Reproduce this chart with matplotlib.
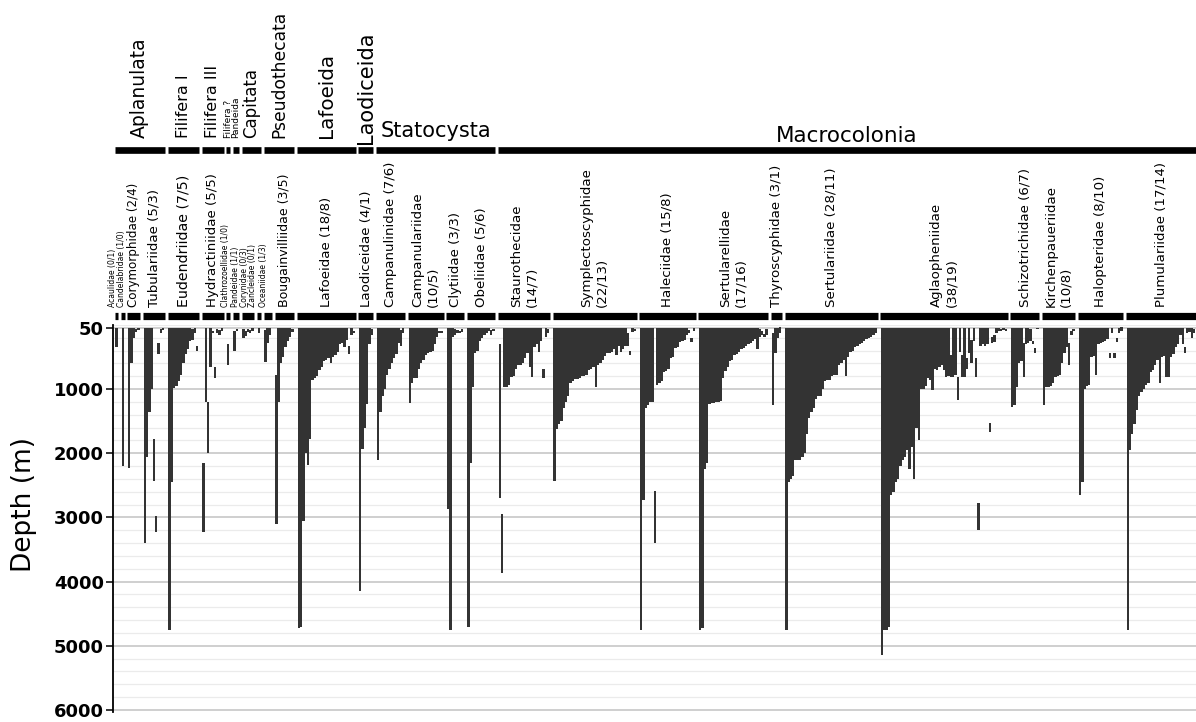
import matplotlib
matplotlib.use("Agg")
import matplotlib.pyplot as plt
import numpy as np

# hydroid families, species counts (a/b) and per-species depth ranges (m)
families = ["Acaulidae", "Candelabridae", "Corymorphidae", "Tubulariidae",
            "Eudendriidae", "Hydractiniidae", "Clathrozoellidae", "Pandeidae",
            "Corynidae", "Zancleidae", "Oceaniidae", "Bougainvilliidae",
            "Lafoeidae", "Laodiceidae", "Campanulinidae", "Campanulariidae",
            "Clytiidae", "Obeliidae", "Staurothecidae", "Symplectoscyphidae",
            "Haleciidae", "Sertularellidae", "Thyroscyphidae", "Sertulariidae",
            "Aglaopheniidae", "Schizotrichidae", "Kirchenpaueriidae",
            "Halopteridae", "Plumulariidae"]
count_a = [0, 1, 2, 5, 7, 5, 1, 1, 0, 0, 1, 3, 18, 4, 7, 10, 3, 5, 14, 22,
           15, 17, 3, 28, 38, 6, 10, 8, 17]
count_b = [1, 0, 4, 3, 5, 5, 0, 1, 3, 1, 3, 5, 8, 1, 6, 5, 3, 6, 7, 13,
           8, 16, 1, 11, 19, 7, 8, 10, 14]

groups = ["Aplanulata", "Filifera I", "Filifera III", "Filifera ?", "Pandeida",
          "Capitata", "Pseudothecata", "Lafoeida", "Laodiceida", "Statocysta",
          "Macrocolonia"]
group_sizes = [4, 1, 1, 1, 1, 2, 2, 1, 1, 4, 11]

acaulidae = [(50, 340)]
candelabridae = [(50, 2200)]
corymorphidae = [(50, 2230), (50, 600), (50, 200), (60, 110), (50, 80)]
tubulariidae = [(50, 3400), (50, 2050), (50, 1350), (50, 1000), (1780, 2430),
                (2980, 3230), (280, 450), (60, 120), (50, 80)]
eudendriidae = [(50, 4750), (50, 2450), (50, 980), (50, 950), (50, 880),
                (50, 780), (50, 600), (50, 450), (50, 380), (50, 250),
                (60, 230), (50, 120), (330, 400)]
hydractiniidae = [(2150, 3230), (50, 1200), (1200, 2000), (50, 650), (90, 130),
                  (650, 820), (60, 120), (80, 150), (50, 90)]
clathrozoellidae = [(300, 630)]
pandeidae = [(100, 400), (60, 100)]
corynidae = [(70, 200), (90, 170), (60, 110), (80, 120), (50, 90)]
zancleidae = [(50, 120)]
oceaniidae = [(80, 580), (50, 280), (50, 150)]
bougainvilliidae = [(780, 3100), (50, 1200), (50, 600), (50, 500), (50, 350),
                    (50, 250), (50, 180), (60, 110)]
lafoeidae = [(50, 4720), (50, 4700), (50, 3050), (50, 2000), (50, 2180),
             (50, 1780), (50, 850), (50, 830), (50, 800), (50, 700), (50, 650),
             (50, 560), (50, 540), (50, 520), (50, 600), (50, 500), (50, 460),
             (50, 420), (50, 300), (50, 280), (50, 350), (50, 230), (320, 450),
             (50, 150), (90, 120)]
laodiceidae = [(50, 4150), (50, 1930), (50, 1600), (50, 1230), (50, 300),
               (60, 150)]
campanulinidae = [(50, 2100), (50, 1350), (50, 1100), (50, 1000), (50, 780),
                  (50, 680), (50, 600), (50, 520), (50, 450), (50, 280),
                  (80, 330), (50, 120)]
campanulariidae = [(50, 1220), (50, 900), (50, 830), (50, 820), (50, 680),
                   (50, 600), (50, 550), (50, 470), (50, 440), (50, 420),
                   (50, 400), (50, 300), (50, 180), (90, 130), (90, 130)]
clytiidae = [(50, 2870), (50, 4750), (50, 180), (60, 150), (80, 130),
             (90, 120), (70, 110)]
obeliidae = [(50, 4700), (50, 2150), (50, 970), (50, 440), (50, 400),
             (50, 250), (50, 200), (50, 150), (50, 120), (50, 100), (80, 150),
             (60, 90)]
staurothecidae = [(300, 2700), (2950, 3870), (50, 970), (50, 970), (50, 930),
                  (50, 810), (50, 800), (50, 680), (50, 630), (50, 630),
                  (50, 600), (50, 520), (50, 440), (50, 650), (50, 810),
                  (50, 340), (50, 300), (50, 420), (50, 250), (680, 830),
                  (50, 180), (60, 120)]
symplectoscyphidae = [(50, 2430), (50, 1620), (50, 1550), (50, 1500),
                      (50, 1300), (50, 1200), (50, 1100), (50, 900), (50, 870),
                      (50, 840), (50, 840), (50, 820), (50, 800), (50, 800),
                      (50, 780), (50, 700), (50, 680), (50, 650), (50, 970),
                      (50, 620), (50, 600), (50, 550), (50, 480), (50, 440),
                      (50, 440), (50, 420), (50, 380), (50, 470), (50, 330),
                      (50, 420), (50, 380), (50, 330), (130, 330), (400, 460),
                      (50, 110), (60, 90)]
haleciidae = [(50, 4750), (50, 2730), (50, 1300), (50, 1250), (50, 1200),
              (50, 1200), (2580, 3400), (50, 940), (50, 900), (50, 880),
              (50, 740), (50, 720), (50, 680), (50, 520), (50, 500), (50, 360),
              (50, 340), (50, 270), (50, 250), (50, 230), (40, 150), (80, 120),
              (200, 260), (50, 90)]
sertularellidae = [(50, 4750), (50, 4720), (50, 2250), (50, 2150), (50, 1230),
                   (50, 1220), (50, 1210), (50, 1200), (50, 1200), (50, 1190),
                   (50, 830), (50, 720), (50, 650), (50, 560), (50, 540),
                   (50, 470), (50, 450), (50, 420), (50, 380), (50, 360),
                   (50, 330), (50, 300), (50, 280), (50, 250), (50, 220),
                   (50, 380), (60, 180), (100, 150), (140, 180), (70, 150)]
thyroscyphidae = [(120, 1250), (50, 440), (50, 200), (30, 120)]
sertulariidae = [(50, 4750), (50, 2450), (50, 2400), (50, 2350), (50, 2100),
                 (50, 2100), (50, 2100), (50, 2050), (50, 2000), (50, 1700),
                 (50, 1450), (50, 1350), (50, 1300), (50, 1150), (50, 1100),
                 (50, 1100), (50, 1000), (50, 870), (50, 860), (50, 850),
                 (50, 800), (50, 780), (50, 780), (50, 620), (50, 600),
                 (50, 550), (50, 800), (50, 500), (50, 420), (50, 400),
                 (50, 350), (50, 330), (50, 300), (50, 280), (50, 250),
                 (50, 220), (50, 200), (50, 180), (50, 150), (50, 120)]
aglaopheniidae = [(50, 5150), (50, 4750), (50, 4750), (50, 4700), (50, 2650),
                  (50, 2600), (50, 2450), (50, 2400), (50, 2200), (50, 2100),
                  (50, 2050), (50, 1950), (50, 2250), (50, 1900), (50, 2400),
                  (50, 1600), (50, 1800), (50, 1000), (50, 990), (50, 950),
                  (50, 830), (50, 860), (50, 1010), (50, 680), (50, 700),
                  (50, 650), (50, 620), (50, 700), (50, 810), (50, 800),
                  (470, 810), (50, 810), (50, 780), (810, 1170), (50, 420),
                  (470, 810), (50, 810), (520, 680), (50, 440), (240, 600),
                  (50, 250), (520, 810), (2770, 3200), (50, 320), (50, 300),
                  (50, 320), (50, 300), (1530, 1670), (190, 280), (150, 260),
                  (50, 130), (50, 100), (60, 90), (50, 80), (70, 100)]
schizotrichidae = [(50, 1280), (50, 1250), (50, 970), (50, 600), (50, 560),
                   (280, 810), (50, 300), (50, 280), (60, 250), (250, 300),
                   (360, 440), (40, 70)]
kirchenpaueriidae = [(50, 1250), (50, 970), (50, 960), (50, 950), (50, 900),
                     (50, 810), (50, 800), (50, 780), (50, 600), (50, 440),
                     (50, 350), (280, 630), (100, 160), (60, 90)]
halopteridae = [(50, 2650), (50, 2450), (50, 1000), (50, 950), (50, 930),
                (50, 500), (50, 480), (50, 780), (50, 300), (50, 280),
                (50, 270), (50, 250), (50, 220), (440, 520), (50, 120),
                (440, 510), (200, 260), (40, 120), (30, 90)]
plumulariidae = [(50, 4750), (50, 1950), (50, 1700), (50, 1550), (50, 1330),
                 (50, 1100), (50, 1050), (50, 1000), (50, 930), (50, 900),
                 (50, 730), (50, 700), (50, 620), (50, 550), (50, 900),
                 (50, 500), (50, 480), (50, 810), (50, 810), (50, 500),
                 (50, 450), (50, 350), (50, 300), (50, 150), (50, 300),
                 (350, 430), (50, 120), (50, 110), (50, 200), (60, 120)]

ranges = [acaulidae, candelabridae, corymorphidae, tubulariidae, eudendriidae,
          hydractiniidae, clathrozoellidae, pandeidae, corynidae, zancleidae,
          oceaniidae, bougainvilliidae, lafoeidae, laodiceidae, campanulinidae,
          campanulariidae, clytiidae, obeliidae, staurothecidae,
          symplectoscyphidae, haleciidae, sertularellidae, thyroscyphidae,
          sertulariidae, aglaopheniidae, schizotrichidae, kirchenpaueriidae,
          halopteridae, plumulariidae]

depth_ticks = [50, 1000, 2000, 3000, 4000, 5000, 6000]

# ---- layout ----
W, H = 1196, 722
GAP = 1.8          # empty slots between families
PAD = 0.3          # segment overhang beyond the outer bars
head_h = 325       # header height in px
panel_bottom = 712.5
left_px = 113

fig = plt.figure(figsize=(W / 100, H / 100), dpi=100)
ax = fig.add_axes([left_px / W, 1 - panel_bottom / H, 1 - left_px / W,
                   (panel_bottom - head_h) / H])
head = fig.add_axes([left_px / W, 1 - head_h / H, 1 - left_px / W, head_h / H],
                    sharex=ax)

pos = 0.0
fam_x = []
for r in ranges:
    xs = pos + np.arange(len(r))
    fam_x.append(xs)
    pos += len(r) + GAP

bar_color = "#333333"
for xs, r in zip(fam_x, ranges):
    shallow = np.array([a for a, b in r], dtype=float)
    deep = np.array([b for a, b in r], dtype=float)
    ax.bar(xs, deep - shallow, bottom=shallow, width=1.04, color=bar_color,
           linewidth=0, zorder=3)

x_last = fam_x[-1][-1]
ax.set_xlim(-1.5, x_last + 0.5 + PAD)
ax.set_ylim(6040, 0)

ax.set_yticks(depth_ticks)
ax.set_yticks(np.arange(0, 6001, 200), minor=True)
ax.yaxis.grid(True, which="major", color="#cccccc", linewidth=1.3, zorder=0)
ax.yaxis.grid(True, which="minor", color="#ebebeb", linewidth=0.9, zorder=0)
ax.set_axisbelow(True)
ax.tick_params(axis="y", which="major", length=5, width=1.1, pad=1.5,
               labelsize=13, colors="black")
ax.tick_params(axis="y", which="minor", length=0)
for lab in ax.get_yticklabels():
    lab.set_fontweight("bold")
ax.tick_params(axis="x", bottom=False, labelbottom=False)
for side in ["top", "right", "bottom"]:
    ax.spines[side].set_visible(False)
ax.spines["left"].set_linewidth(1.3)

fig.text(24 / W, 1 - 505 / H, "Depth (m)", rotation=90, fontsize=19,
         ha="center", va="center")

# ---- header: family and group segments with labels ----
head.set_ylim(head_h, 0)
head.axis("off")

two_line = {"Campanulariidae", "Staurothecidae", "Symplectoscyphidae",
            "Sertularellidae", "Aglaopheniidae", "Kirchenpaueriidae"}
small_fs = {"Acaulidae": 5.5, "Candelabridae": 5.5, "Clathrozoellidae": 5.5,
            "Pandeidae": 5.5, "Corynidae": 5.5, "Zancleidae": 5.5,
            "Oceaniidae": 5.5, "Corymorphidae": 8.6, "Bougainvilliidae": 9,
            "Eudendriidae": 10.2}
# nudges (in bar slots) that keep the narrow labels apart
label_dx = {"Acaulidae": -1.8, "Candelabridae": -0.6, "Clathrozoellidae": -1.0,
            "Pandeidae": -0.3, "Corynidae": -1.7, "Zancleidae": -2.6,
            "Oceaniidae": -2.0}

seg_lo, seg_hi = [], []
for name, a, b, xs in zip(families, count_a, count_b, fam_x):
    lo, hi = xs[0] - 0.5 - PAD, xs[-1] + 0.5 + PAD
    seg_lo.append(lo)
    seg_hi.append(hi)
    head.plot([lo, hi], [315.5, 315.5], color="black", lw=5.2,
              solid_capstyle="butt")
    sep = "\n" if name in two_line else " "
    head.text((lo + hi) / 2 + label_dx.get(name, 0), 307,
              f"{name}{sep}({a}/{b})", rotation=90, ha="center", va="bottom",
              fontsize=small_fs.get(name, 9.6), multialignment="left")

group_fs = [13.5, 11.5, 11.5, 6.5, 6.5, 12, 12.3, 14.3, 15, 15, 15.5]
i = 0
for name, size, fs in zip(groups, group_sizes, group_fs):
    lo, hi = seg_lo[i], seg_hi[i + size - 1]
    i += size
    head.plot([lo, hi], [149.5, 149.5], color="black", lw=4.8,
              solid_capstyle="butt")
    cx = (lo + hi) / 2
    if name in ("Statocysta", "Macrocolonia"):
        y = 137 if name == "Statocysta" else 142
        head.text(cx, y, name, ha="center", va="baseline", fontsize=fs)
    else:
        y = 144 if name == "Laodiceida" else 138
        head.text(cx, y, name, rotation=90, ha="center", va="bottom",
                  fontsize=fs)

fig.savefig("out.png", dpi=100)
